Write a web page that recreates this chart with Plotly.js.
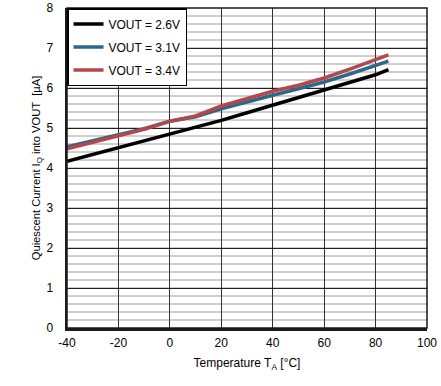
<!DOCTYPE html>
<html>
<head>
<meta charset="utf-8">
<script src="https://cdn.plot.ly/plotly-3.0.1.min.js"></script>
<style>html,body{margin:0;padding:0;background:#fff;}#chart{width:441px;height:386px;}</style>
</head>
<body>
<div id="chart"></div>
<script>
const temperature = [-40, -30, -20, -10, 0, 10, 20, 30, 40, 50, 60, 70, 80, 85];
const iq_2v6 = [4.17, 4.34, 4.51, 4.67, 4.84, 5.00, 5.19, 5.38, 5.57, 5.75, 5.94, 6.14, 6.33, 6.46];
const iq_3v1 = [4.53, 4.68, 4.83, 4.98, 5.17, 5.28, 5.48, 5.66, 5.82, 5.98, 6.15, 6.35, 6.55, 6.67];
const iq_3v4 = [4.48, 4.65, 4.82, 4.97, 5.17, 5.30, 5.55, 5.74, 5.92, 6.07, 6.25, 6.47, 6.70, 6.83];
const seriesNames = ['VOUT = 2.6V', 'VOUT = 3.1V', 'VOUT = 3.4V'];
const seriesColors = ['#000000', '#2b6889', '#b3474b'];
const xTicks = [-40, -20, 0, 20, 40, 60, 80, 100];
const yTicks = [0, 1, 2, 3, 4, 5, 6, 7, 8];

const font = 'Liberation Sans, Arial, sans-serif';
const values = [iq_2v6, iq_3v1, iq_3v4];
const traces = values.map((v, i) => ({
  x: temperature, y: v, type: 'scatter', mode: 'lines',
  name: seriesNames[i], legendgroup: 'g' + i,
  line: {color: seriesColors[i], width: 3.5}
}));

const layout = {
  width: 441, height: 386,
  margin: {l: 67, r: 14, t: 8, b: 58},
  paper_bgcolor: '#fff', plot_bgcolor: '#fff',
  font: {family: font, size: 12, color: '#000'},
  showlegend: true,
  legend: {
    x: 0, y: 1, xanchor: 'left', yanchor: 'top',
    bgcolor: '#fff', bordercolor: '#000', borderwidth: 1.5,
    font: {family: font, size: 12, color: '#000'},
    traceorder: 'grouped', tracegroupgap: 4
  },
  xaxis: {
    range: [-40, 100], tickvals: xTicks, ticktext: xTicks.map(String),
    showgrid: true, gridcolor: '#333', gridwidth: 1,
    showline: true, linecolor: '#1a1a1a', linewidth: 2.5,
    zeroline: false, ticks: '', ticklabelstandoff: 2,
    tickfont: {family: font, size: 12, color: '#000'},
    title: {text: 'Temperature T<sub>A</sub> [°C]', font: {family: font, size: 12, color: '#000'}, standoff: 10}
  },
  yaxis: {
    range: [0, 8], tickvals: yTicks, ticktext: yTicks.map(String),
    showgrid: true, gridcolor: '#222', gridwidth: 1,
    minor: {dtick: 0.2, showgrid: true, gridcolor: '#cfcfcf', gridwidth: 1.5},
    showline: true, linecolor: '#1a1a1a', linewidth: 2.5,
    zeroline: false, ticks: '', ticklabelstandoff: 9,
    tickfont: {family: font, size: 12, color: '#000'},
    title: {text: 'Quiescent Current I<sub>Q</sub> into VOUT  [µA]', font: {family: font, size: 11.2, color: '#000'}, standoff: 4}
  },
  shapes: [{type: 'rect', xref: 'paper', yref: 'paper', x0: 0, x1: 1, y0: 0, y1: 1,
            line: {color: '#1a1a1a', width: 1.5}, layer: 'above'}]
};

Plotly.newPlot('chart', traces, layout, {displayModeBar: false, staticPlot: true});
</script>
</body>
</html>
